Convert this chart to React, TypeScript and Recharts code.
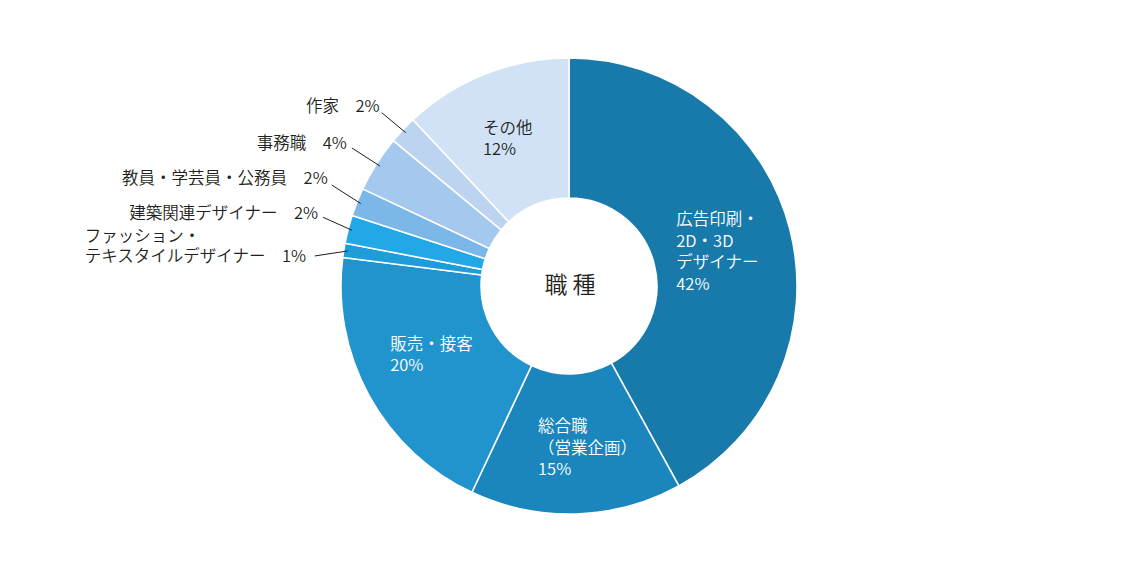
import React from 'react';
import { PieChart, Pie, Cell, Label } from 'recharts';

// ---- data ----
const categories = [
  '広告印刷・2D・3Dデザイナー',
  '総合職（営業企画）',
  '販売・接客',
  'ファッション・テキスタイルデザイナー',
  '建築関連デザイナー',
  '教員・学芸員・公務員',
  '事務職',
  '作家',
  'その他',
];
const values = [42, 15, 20, 1, 2, 2, 4, 2, 12];
const labelLines = [
  ['広告印刷・', '2D・3D', 'デザイナー'],
  ['総合職', '（営業企画）'],
  ['販売・接客'],
  ['ファッション・', 'テキスタイルデザイナー'],
  ['建築関連デザイナー'],
  ['教員・学芸員・公務員'],
  ['事務職'],
  ['作家'],
  ['その他'],
];
const centerTitle = '職 種';

// ---- styles / layout ----
const colors = ['#177aab', '#1a86bd', '#2194cd', '#1f9dd9', '#22a8e6', '#7cb7ea', '#a4c8ee', '#bdd4f1', '#d1e2f6'];
const FONT = "'Noto Sans CJK JP', 'Noto Sans', sans-serif";
const FS = 16.5;
const FW = 350;
const LINE_H = 21.6;
const TEXT_DARK = '#231f20';

type InsideLayout = { kind: 'inside'; r: number; dx: number; dy: number; color: string };
type OutsideLayout = { kind: 'outside'; lead: [number, number]; text: [number, number]; blockDx?: number };
const labelLayout: (InsideLayout | OutsideLayout)[] = [
  { kind: 'inside', r: 150, dx: -38, dy: -30.6, color: '#ffffff' },
  { kind: 'inside', r: 160, dx: -36, dy: -21, color: '#ffffff' },
  { kind: 'inside', r: 155, dx: -43, dy: -18, color: '#ffffff' },
  { kind: 'outside', lead: [-33, 5], text: [-7, -1], blockDx: -223 },
  { kind: 'outside', lead: [-29, -13], text: [-5, -5] },
  { kind: 'outside', lead: [-29, -18.5], text: [-4, -8] },
  { kind: 'outside', lead: [-28, -18], text: [-5, -6] },
  { kind: 'outside', lead: [-24, -20], text: [-2, -8] },
  { kind: 'inside', r: 155, dx: -29, dy: -15, color: TEXT_DARK },
];

const chartData = categories.map((name, i) => ({ name, value: values[i] }));

const RAD = Math.PI / 180;
const polar = (cx: number, cy: number, r: number, angle: number) => ({
  x: cx + r * Math.cos(-angle * RAD),
  y: cy + r * Math.sin(-angle * RAD),
});

const renderLabel = (props: any) => {
  const { cx, cy, midAngle, outerRadius, index, value } = props;
  const lay = labelLayout[index];
  const lines = labelLines[index];
  const common = { fontFamily: FONT, fontSize: FS, fontWeight: FW, dominantBaseline: 'central' as const };
  if (lay.kind === 'inside') {
    const a = polar(cx, cy, lay.r, midAngle);
    const x = a.x + lay.dx;
    const y0 = a.y + lay.dy;
    const all = [...lines, `${value}%`];
    return (
      <text key={`lbl-${index}`} x={x} y={y0} fill={lay.color} textAnchor="start" {...common}>
        {all.map((t, i) => (
          <tspan key={i} x={x} y={y0 + i * LINE_H}>
            {t}
          </tspan>
        ))}
      </text>
    );
  }
  const end = polar(cx, cy, outerRadius - 4, midAngle);
  const start = { x: end.x + lay.lead[0], y: end.y + lay.lead[1] };
  const tx = start.x + lay.text[0];
  const ty = start.y + lay.text[1];
  const all = [...lines];
  all[all.length - 1] = `${all[all.length - 1]}\u3000${value}%`;
  const multi = all.length > 1;
  const x = multi ? tx + (lay.blockDx ?? 0) : tx;
  const lh = LINE_H - 1.5;
  return (
    <g key={`lbl-${index}`}>
      <line x1={start.x} y1={start.y} x2={end.x} y2={end.y} stroke={TEXT_DARK} strokeWidth={1} />
      <text x={x} y={ty} fill={TEXT_DARK} textAnchor={multi ? 'start' : 'end'} {...common}>
        {all.map((t, i) => (
          <tspan key={i} x={x} y={ty - (all.length - 1 - i) * lh}>
            {t}
          </tspan>
        ))}
      </text>
    </g>
  );
};

export default function App() {
  return (
    <div style={{ position: 'absolute', left: 0, top: 0, width: 1140, height: 570, background: '#fff' }}>
      <PieChart width={1140} height={570} margin={{ top: 0, right: 0, bottom: 0, left: 0 }}>
        <Pie
          data={chartData}
          dataKey="value"
          nameKey="name"
          cx={569}
          cy={286}
          innerRadius={88}
          outerRadius={228}
          startAngle={90}
          endAngle={-270}
          stroke="#ffffff"
          strokeWidth={1.5}
          label={renderLabel}
          labelLine={false}
          isAnimationActive={false}
        >
          {chartData.map((d, i) => (
            <Cell key={d.name} fill={colors[i]} />
          ))}
          <Label
            value={centerTitle}
            position="center"
            fill={TEXT_DARK}
            fontSize={23}
            fontWeight={FW}
            fontFamily={FONT}
          />
        </Pie>
      </PieChart>
    </div>
  );
}
